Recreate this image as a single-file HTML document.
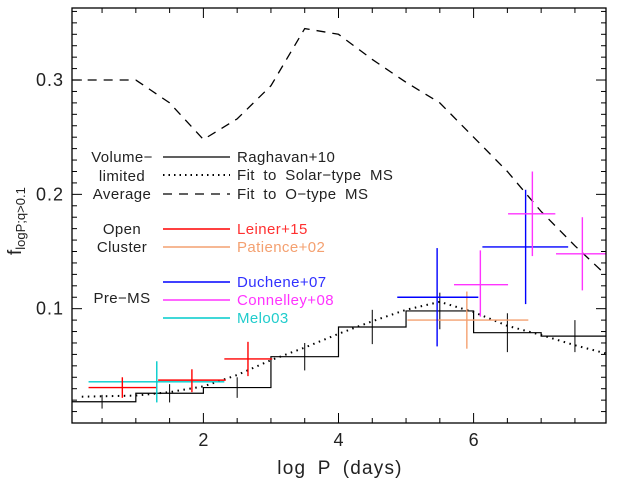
<!DOCTYPE html>
<html><head><meta charset="utf-8"><style>
body{margin:0;background:#fff}
svg text{font-family:"Liberation Sans",sans-serif}
</style></head><body>
<svg id="c" width="617" height="486" xmlns="http://www.w3.org/2000/svg"></svg>
<script>
const histEdges=[0,1,2,3,4,5,6,7,8];
const histVals=[0.0186,0.026,0.031,0.058,0.084,0.098,0.079,0.076];
const histErr=[0.006,0.008,0.009,0.012,0.015,0.016,0.017,0.014];
const solarX=[0.2,1,1.5,2,2.5,3,3.5,4,4.5,5,5.5,6,6.5,7,7.5,7.95];
const solarY=[0.023,0.024,0.027,0.032,0.042,0.055,0.066,0.078,0.089,0.099,0.106,0.097,0.085,0.077,0.068,0.061];
const oX=[0.05,1,1.5,2,2.5,3,3.5,4,4.5,5,5.5,6,6.5,7,7.5,7.95];
const oY=[0.30,0.30,0.28,0.248,0.266,0.295,0.345,0.340,0.318,0.298,0.28,0.25,0.22,0.185,0.155,0.13];
// points: [xc, xlo, xhi, y, ylo, yhi]
const leiner=[[0.8,0.3,1.3,0.031,0.022,0.040],[1.83,1.33,2.33,0.0375,0.027,0.047],[2.66,2.31,3.02,0.056,0.041,0.071]];
const patience=[[5.9,5.02,6.81,0.09,0.065,0.115]];
const duchene=[[5.46,4.87,6.07,0.110,0.067,0.153],[6.77,6.13,7.4,0.154,0.104,0.204]];
const connelley=[[6.1,5.71,6.51,0.121,0.093,0.151],[6.87,6.51,7.21,0.183,0.146,0.220],[7.61,7.22,8.0,0.148,0.116,0.180]];
const melo=[[1.31,0.3,2.31,0.036,0.018,0.054]];
const xTicks=[2,4,6];
const yTicks=[0.1,0.2,0.3];

const L=72,R=606,T=8,B=423;
const xmin=0.055,xmax=7.96,ymin=0,ymax=0.363;
const X=v=>L+(v-xmin)/(xmax-xmin)*(R-L);
const Y=v=>B-(v-ymin)/(ymax-ymin)*(B-T);
const svg=document.getElementById('c');
const NS='http://www.w3.org/2000/svg';
function mk(tag,attrs,parent){const e=document.createElementNS(NS,tag);for(const k in attrs)e.setAttribute(k,attrs[k]);(parent||svg).appendChild(e);return e;}
const defs=mk('defs',{});const cp=mk('clipPath',{id:'cp'},defs);mk('rect',{x:L,y:T,width:R-L,height:B-T},cp);
const plot=mk('g',{'clip-path':'url(#cp)'});



let d='M'+X(xmin)+','+Y(histVals[0]);
for(let i=0;i<histVals.length;i++){d+=' L'+X(histEdges[i])+','+Y(histVals[i])+' L'+X(histEdges[i+1])+','+Y(histVals[i]);}
const h=mk('path',{d:d,fill:'none',stroke:'#000','stroke-width':1.2},plot);


histVals.forEach((v,i)=>{const c=(histEdges[i]+histEdges[i+1])/2;
const e=mk('line',{x1:X(c),x2:X(c),y1:Y(v-histErr[i]),y2:Y(v+histErr[i]),stroke:'#000','stroke-width':1},plot);

});
const s=mk('polyline',{points:solarX.map((x,i)=>X(x)+','+Y(solarY[i])).join(' '),fill:'none',stroke:'#000','stroke-width':2,'stroke-dasharray':'1.5 4.5'},plot);


const o=mk('polyline',{points:oX.map((x,i)=>X(x)+','+Y(oY[i])).join(' '),fill:'none',stroke:'#000','stroke-width':1.3,'stroke-dasharray':'9 7'},plot);


function crosses(arr,col,name){arr.forEach(p=>{
const g=mk('g',{stroke:col,'stroke-width':1.4},plot);


mk('line',{x1:X(p[1]),x2:X(p[2]),y1:Y(p[3]),y2:Y(p[3])},g);
mk('line',{x1:X(p[0]),x2:X(p[0]),y1:Y(p[4]),y2:Y(p[5])},g);});}
crosses(patience,'#f4a070','patience');
crosses(melo,'#00cccc','melo');
crosses(leiner,'#ff0000','leiner');
crosses(duchene,'#0000ff','duchene');
crosses(connelley,'#ff33ff','connelley');

const ax=mk('rect',{x:L,y:T,width:R-L,height:B-T,fill:'none',stroke:'#000','stroke-width':1.3});


for(let v=0.5;v<8;v+=0.5){const big=Math.abs(v-Math.round(v/2)*2)<1e-6;const len=big?10:5;
mk('line',{x1:X(v),x2:X(v),y1:B,y2:B-len,stroke:'#000'});mk('line',{x1:X(v),x2:X(v),y1:T,y2:T+len,stroke:'#000'});}
for(let k=1;k<=36;k++){const v=k/100;const big=k%10===0;const len=big?10:5;
mk('line',{x1:L,x2:L+len,y1:Y(v),y2:Y(v),stroke:'#000'});mk('line',{x1:R,x2:R-len,y1:Y(v),y2:Y(v),stroke:'#000'});}
xTicks.forEach(v=>{const t=mk('text',{x:X(v),y:446,'text-anchor':'middle','font-size':18,fill:'#222'});t.textContent=v;

});
yTicks.forEach(v=>{const t=mk('text',{x:64,y:Y(v)+6,'text-anchor':'end','font-size':18,'letter-spacing':1,fill:'#222'});t.textContent=v.toFixed(1);

});
</script>
<svg width="617" height="486" style="position:absolute;left:0;top:0" xmlns="http://www.w3.org/2000/svg">
<text x="340" y="474" text-anchor="middle" font-size="19" letter-spacing="1.2" word-spacing="5" fill="#222">log P (days)</text>
<text transform="translate(21,255) rotate(-90)" font-size="19" fill="#222">f<tspan font-size="13" dy="4">logP;q&gt;0.1</tspan></text>
<g font-size="15" letter-spacing="0.4" word-spacing="4" fill="#222">
<text x="122" y="162" text-anchor="middle">Volume−</text>
<text x="122" y="181" text-anchor="middle">limited</text>
<text x="122" y="199" text-anchor="middle">Average</text>
<text x="122" y="234" text-anchor="middle">Open</text>
<text x="122" y="252" text-anchor="middle">Cluster</text>
<text x="122" y="303" text-anchor="middle">Pre−MS</text>
<line x1="163" x2="230" y1="157" y2="157" stroke="#000" stroke-width="1.2"/>
<line x1="163" x2="230" y1="175" y2="175" stroke="#000" stroke-width="2" stroke-dasharray="1.5 4"/>
<line x1="163" x2="230" y1="194" y2="194" stroke="#000" stroke-width="1.3" stroke-dasharray="9 7"/>
<line x1="163" x2="230" y1="229" y2="229" stroke="#ff0000" stroke-width="1.4"/>
<line x1="163" x2="230" y1="247" y2="247" stroke="#f4a070" stroke-width="1.4"/>
<line x1="163" x2="230" y1="282" y2="282" stroke="#0000ff" stroke-width="1.4"/>
<line x1="163" x2="230" y1="300" y2="300" stroke="#ff33ff" stroke-width="1.4"/>
<line x1="163" x2="230" y1="318" y2="318" stroke="#00cccc" stroke-width="1.4"/>
<text x="237" y="162">Raghavan+10</text>
<text x="237" y="180">Fit to Solar−type MS</text>
<text x="237" y="199">Fit to O−type MS</text>
<text x="237" y="234" fill="#ff3030">Leiner+15</text>
<text x="237" y="252" fill="#f4a070">Patience+02</text>
<text x="237" y="287" fill="#3030ff">Duchene+07</text>
<text x="237" y="305" fill="#ff33ff">Connelley+08</text>
<text x="237" y="323" fill="#20cccc">Melo03</text>
</g>
</svg>
</body></html>
